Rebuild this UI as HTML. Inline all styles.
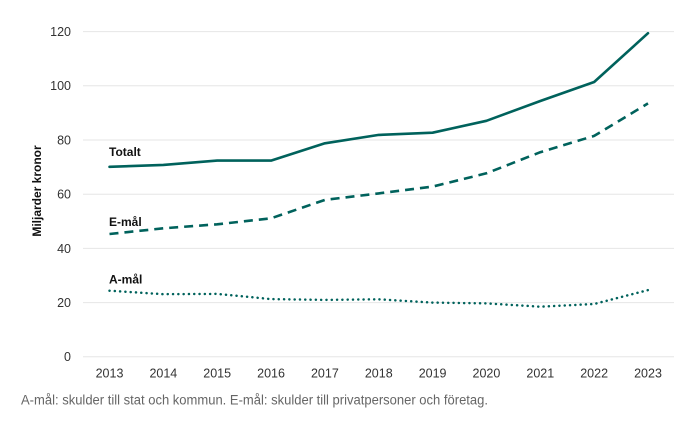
<!DOCTYPE html>
<html>
<head>
<meta charset="utf-8">
<style>
  html, body { margin:0; padding:0; background:#ffffff; }
  svg { display:block; }
  text { font-family: "Liberation Sans", Arial, sans-serif; }
</style>
</head>
<body>
<svg width="690" height="429" viewBox="0 0 690 429" xmlns="http://www.w3.org/2000/svg">
  <rect width="690" height="429" fill="#ffffff"/>
  <!-- gridlines -->
  <g stroke="#e6e6e6" stroke-width="1">
    <line x1="83" y1="31.6" x2="674" y2="31.6"/>
    <line x1="83" y1="85.8" x2="674" y2="85.8"/>
    <line x1="83" y1="140" x2="674" y2="140"/>
    <line x1="83" y1="194.2" x2="674" y2="194.2"/>
    <line x1="83" y1="248.4" x2="674" y2="248.4"/>
    <line x1="83" y1="302.6" x2="674" y2="302.6"/>
    <line x1="83" y1="356.8" x2="674" y2="356.8"/>
  </g>
  <!-- y tick labels -->
  <g fill="#333333" font-size="12.5" text-anchor="end">
    <text x="71" y="36">120</text>
    <text x="71" y="90.2">100</text>
    <text x="71" y="144.4">80</text>
    <text x="71" y="198.6">60</text>
    <text x="71" y="252.8">40</text>
    <text x="71" y="307">20</text>
    <text x="71" y="361.2">0</text>
  </g>
  <!-- y axis title -->
  <text transform="translate(41,191) rotate(-90)" text-anchor="middle" font-size="12" font-weight="bold" fill="#111">Miljarder kronor</text>
  <!-- x tick labels -->
  <g fill="#333333" font-size="12.5" text-anchor="middle">
    <text x="109.5" y="377.5">2013</text>
    <text x="163.35" y="377.5">2014</text>
    <text x="217.2" y="377.5">2015</text>
    <text x="271.05" y="377.5">2016</text>
    <text x="324.9" y="377.5">2017</text>
    <text x="378.75" y="377.5">2018</text>
    <text x="432.6" y="377.5">2019</text>
    <text x="486.45" y="377.5">2020</text>
    <text x="540.3" y="377.5">2021</text>
    <text x="594.15" y="377.5">2022</text>
    <text x="648" y="377.5">2023</text>
  </g>
  <!-- series -->
  <g fill="none" stroke="#00625c" stroke-linejoin="round">
    <polyline stroke-width="2.6" stroke-linecap="round"
      points="109.5,166.8 163.35,164.9 217.2,160.6 271.05,160.6 324.9,143.3 378.75,134.9 432.6,132.7 486.45,120.8 540.3,101.0 594.15,82.0 648,33.2"/>
    <polyline stroke-width="2.6" stroke-dasharray="9 6"
      points="109.5,234.0 163.35,228.3 217.2,224.3 271.05,218.3 324.9,199.9 378.75,193.4 432.6,186.6 486.45,173.3 540.3,152.2 594.15,135.9 648,103.4"/>
    <polyline stroke-width="2.5" stroke-dasharray="0.1 5.2" stroke-linecap="round"
      points="109.5,290.7 163.35,294.2 217.2,293.9 271.05,299.1 324.9,299.9 378.75,299.3 432.6,302.6 486.45,303.4 540.3,306.7 594.15,304.0 648,290.1"/>
  </g>
  <!-- series labels -->
  <g fill="#111" font-size="12" font-weight="bold">
    <text x="109" y="156">Totalt</text>
    <text x="109" y="226">E-mål</text>
    <text x="109" y="283.5">A-mål</text>
  </g>
  <!-- caption -->
  <text x="21" y="404.5" font-size="13.5" fill="#666666" textLength="467" lengthAdjust="spacingAndGlyphs">A-mål: skulder till stat och kommun. E-mål: skulder till privatpersoner och företag.</text>
</svg>
</body>
</html>
